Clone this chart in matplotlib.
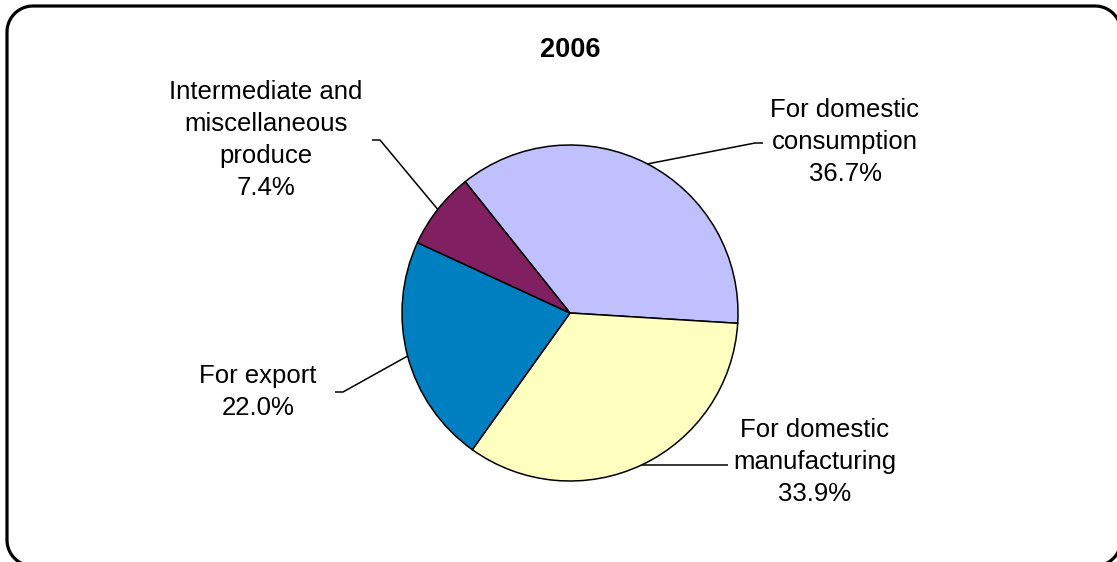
import numpy as np
import matplotlib.pyplot as plt
from matplotlib.lines import Line2D
from matplotlib.transforms import IdentityTransform

plt.rcParams['font.family'] = ['Liberation Sans', 'DejaVu Sans']

# data
labels = ['For domestic\nconsumption', 'For domestic\nmanufacturing',
          'For export', 'Intermediate and\nmiscellaneous\nproduce']
shares = [36.7, 33.9, 22.0, 7.4]
colors = ['#C0C0FF', '#FFFFC0', '#0080C0', '#802060']
title = '2006'

W, H = 1117, 562
fig = plt.figure(figsize=(W / 100, H / 100), dpi=100)
ax = fig.add_axes([0, 0, 1, 1])

def py(y):
    # pixel row (from top) -> data y
    return H - y

cx, cy, r = 570, py(313), 168
wedges, _ = ax.pie(shares, colors=colors, startangle=128.6, counterclock=False,
                   center=(cx, cy), radius=r, frame=True,
                   wedgeprops=dict(edgecolor='black', linewidth=1.1))
ax.set_xlim(0, W)
ax.set_ylim(0, H)
ax.set_aspect('equal')
ax.axis('off')

# label layout: elbow point, end of horizontal tick, text centre
layout = [
    dict(elbow=(755, 143), end=(763, 143), text=(845, 142)),
    dict(elbow=(642, 465), end=(728, 465), text=(815, 462)),
    dict(elbow=(343, 392), end=(335, 392), text=(258, 392)),
    dict(elbow=(380, 140), end=(372, 140), text=(266, 140)),
]

for w, lab, val, lo in zip(wedges, labels, shares, layout):
    mid = np.deg2rad((w.theta1 + w.theta2) / 2)
    x0 = cx + r * np.cos(mid)
    y0 = cy + r * np.sin(mid)
    ex, ey = lo['elbow']
    tx, ty = lo['end']
    ax.plot([x0, ex, tx], [y0, py(ey), py(ty)], color='black', lw=1.1,
            solid_capstyle='butt')
    ax.text(lo['text'][0], py(lo['text'][1]), f'{lab}\n{val:.1f}%',
            ha='center', va='center', fontsize=18.5, linespacing=1.43)

ax.text(cx, py(50), title, ha='center', va='center', fontsize=19.5, fontweight='bold')

# rounded outer frame in pixel coords, built as a polyline
# (it runs past the right/bottom edges like the original)
x_l, x_r, y_b, y_t, rad = 7, 1121, -4, 556, 26
corners = [(x_r - rad, y_t - rad, 0, 90), (x_l + rad, y_t - rad, 90, 180),
           (x_l + rad, y_b + rad, 180, 270), (x_r - rad, y_b + rad, 270, 360)]
bx, by = [], []
for ccx, ccy, a0, a1 in corners:
    t = np.deg2rad(np.linspace(a0, a1, 20))
    bx.extend(ccx + rad * np.cos(t))
    by.extend(ccy + rad * np.sin(t))
bx.append(bx[0])
by.append(by[0])
fig.add_artist(Line2D(bx, by, color='black', lw=2.3, transform=IdentityTransform()))

fig.savefig('out.png', dpi=100)
